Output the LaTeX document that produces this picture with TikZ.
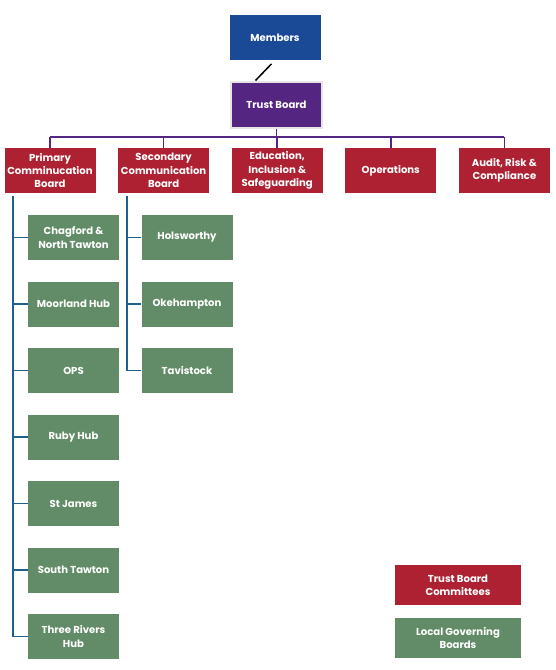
\documentclass[tikz,border=0pt]{standalone}
\usepackage{fontspec}
\setmainfont{Poppins}
\usetikzlibrary{positioning}
\definecolor{memblue}{HTML}{1A4A96}
\definecolor{trustpurple}{HTML}{542682}
\definecolor{cttred}{HTML}{AE2132}
\definecolor{lgbgreen}{HTML}{628C67}
\definecolor{treeblue}{HTML}{1F5F8B}
\tikzset{
    x=1pt, y=-1pt,
    on grid,
    box/.style={minimum width=91pt, minimum height=45pt, inner sep=1pt,
        align=center, text=white, font=\fontsize{10.1}{13.4}\selectfont\bfseries},
    members/.style={box, fill=memblue},
    trust/.style={box, fill=trustpurple, draw=gray!20, line width=2pt, minimum width=91pt, minimum height=46pt},
    committee/.style={box, fill=cttred},
    school/.style={box, fill=lgbgreen},
    legend/.style={box, minimum width=126pt, minimum height=40pt},
    bus/.style={draw=trustpurple, line width=1.6pt},
    branch/.style={draw=treeblue, line width=1.8pt},
}

\begin{document}
\begin{tikzpicture}
    \useasboundingbox (0,0) rectangle (555,670);

        \node[members] (members) at (275,37.5) {Members};
        \node[trust] (tb) at (276.5,104.5) {Trust Board};

        \node[committee] (pcb) at (50,170.5) {Primary\\Comminucation\\Board};
        \node[committee, right=113.6pt of pcb] (scb) {Secondary\\Communication\\Board};
        \node[committee, right=113.6pt of scb] (eis) {Education,\\Inclusion \&\\Safeguarding};
        \node[committee, right=113.6pt of eis] (ops) {Operations};
        \node[committee, right=113.6pt of ops] (arc) {Audit, Risk \&\\Compliance};

        % primary schools
        \node[school] (chagford) at (73.5,237.5) {Chagford \&\\North Tawton};
        \node[school, below=66.5pt of chagford] (moorland) {Moorland Hub};
        \node[school, below=66.5pt of moorland] (opsschool) {OPS};
        \node[school, below=66.5pt of opsschool] (ruby) {Ruby Hub};
        \node[school, below=66.5pt of ruby] (stjames) {St James};
        \node[school, below=66.5pt of stjames] (southtawton) {South Tawton};
        \node[school, below=66.5pt of southtawton] (threerivers) {Three Rivers\\Hub};

        % secondary schools
        \node[school, right=113.5pt of chagford] (holsworthy) {Holsworthy};
        \node[school, below=66.5pt of holsworthy] (okehampton) {Okehampton};
        \node[school, below=66.5pt of okehampton] (tavistock) {Tavistock};

        % key
        \node[legend, fill=cttred] (keyctt) at (458,585) {Trust Board\\Committees};
        \node[legend, fill=lgbgreen, below=53pt of keyctt] (keylgb) {Local Governing\\Boards};

    \draw[line width=1.5pt, shorten <=5pt] (members.south) -- ([xshift=-21pt]tb.north);

    \coordinate (busy) at (0,137);
    \draw[bus] (tb.south) -- (tb.south |- busy);
    \foreach \c in {pcb,scb,eis,ops,arc}
        \draw[bus] (\c.north) -- (\c.north |- busy);
    \draw[bus] (pcb.north |- busy) -- (arc.north |- busy);

    \draw[branch] ([xshift=9pt,yshift=-3pt]pcb.south west) |- (threerivers.west);
    \foreach \s in {chagford,moorland,opsschool,ruby,stjames,southtawton}
        \draw[branch] (\s.west) -- ++(-15,0);

    \draw[branch] ([xshift=9pt,yshift=-3pt]scb.south west) |- (tavistock.west);
    \foreach \s in {holsworthy,okehampton}
        \draw[branch] (\s.west) -- ++(-15,0);
\end{tikzpicture}
\end{document}
